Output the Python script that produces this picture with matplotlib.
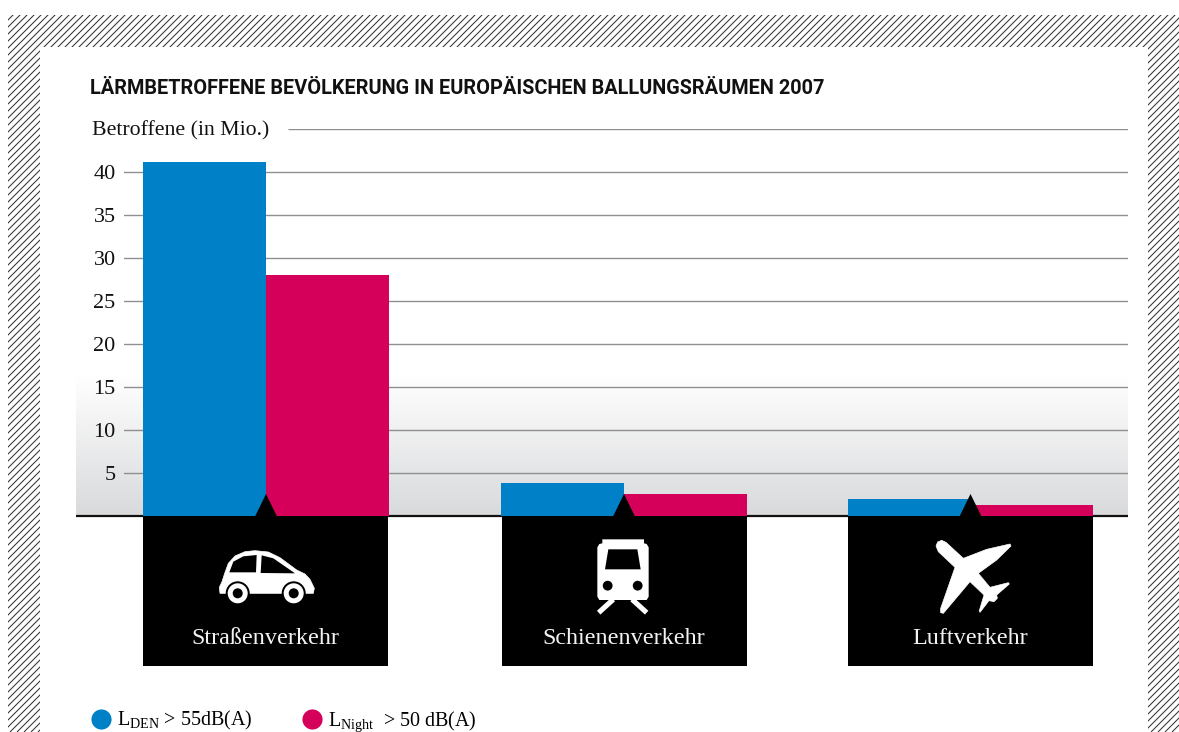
import matplotlib
matplotlib.use('Agg')
import matplotlib.pyplot as plt
import numpy as np
from matplotlib.collections import LineCollection
from matplotlib.lines import Line2D
from matplotlib.patches import Circle, Polygon, Rectangle

# Data
categories = ['Straßenverkehr', 'Schienenverkehr', 'Luftverkehr']
l_den = [41.2, 3.8, 1.9]
l_night = [28.0, 2.5, 1.2]
y_ticks = [5, 10, 15, 20, 25, 30, 35, 40]

title = 'LÄRMBETROFFENE BEVÖLKERUNG IN EUROPÄISCHEN BALLUNGSRÄUMEN 2007'
y_title = 'Betroffene (in Mio.)'
den_label = r'L$_{\mathrm{DEN}}$ > 55dB(A)'
night_label = r'L$_{\mathrm{Night}}\;$ > 50 dB(A)'

BLUE = '#0080c6'
RED = '#d4005a'
W, H = 1179, 732
SERIF = 'Liberation Serif'

plt.rcParams['font.family'] = SERIF
plt.rcParams['mathtext.fontset'] = 'custom'
plt.rcParams['mathtext.rm'] = SERIF

fig = plt.figure(figsize=(W / 100, H / 100), dpi=100, facecolor='white')

# background layer in pixel coordinates: hatched frame
bg = fig.add_axes([0, 0, 1, 1], zorder=0)
bg.set_xlim(0, W)
bg.set_ylim(H, 0)
bg.axis('off')
hatch_clip = Rectangle((8, 15), W - 8, H - 15, transform=bg.transData)
segs = [[(c, 0), (c - H, H)] for c in np.arange(0, W + H, 7.0)]
lc = LineCollection(segs, colors='#333333', linewidths=0.75)
bg.add_collection(lc)
lc.set_clip_path(hatch_clip)
bg.add_patch(Rectangle((40, 47), 1108, H - 47, fc='white', ec='none', zorder=3))

# chart axes, x runs in the same units as the pixels so groups sit where they do in the picture
left, right, top, bottom = 124, 1128, 129, 515.5
ax = fig.add_axes([left / W, 1 - bottom / H, (right - left) / W, (bottom - top) / H], zorder=1)
ax.patch.set_alpha(0)

centers = np.array([266, 624, 970.5])
bar_w = 122.6
ax.bar(centers - bar_w / 2, l_den, bar_w, color=BLUE, zorder=3)
ax.bar(centers + bar_w / 2, l_night, bar_w, color=RED, zorder=3)

# soft grey floor behind the bars
grad = np.linspace(0, 1, 128).reshape(-1, 1)
ax.imshow(grad, cmap=matplotlib.colors.LinearSegmentedColormap.from_list('g', ['white', '#d9dadc']),
          extent=(76, right, 0, 16.3), aspect='auto', zorder=0, clip_on=False, origin='upper')

ax.set_xlim(left, right)
ax.set_ylim(0, 45)
ax.set_xticks([])
ax.set_yticks(y_ticks)
ax.tick_params(axis='y', length=0, pad=6, labelsize=16, colors='#111111')
ax.grid(True, axis='y', color='#8f8f8f', lw=1.0, zorder=1)
ax.set_axisbelow(True)
for s in ax.spines.values():
    s.set_visible(False)
ax.hlines(45, 288, right, color='#8f8f8f', lw=1.0, zorder=1)
ax.hlines(0, 76, right, color='#111111', lw=1.6, zorder=2, clip_on=False)

# overlay with the black category boxes and icons
ov = fig.add_axes([0, 0, 1, 1], zorder=2)
ov.set_xlim(0, W)
ov.set_ylim(H, 0)
ov.axis('off')
ov.patch.set_alpha(0)


def zoomed(pts, x0, y0):
    return [(x0 + a / 3, y0 + b / 3) for a, b in pts]


for c, box_c, name in zip(centers, [265.5, 624.5, 970.5], categories):
    ov.add_patch(Rectangle((box_c - 122.5, bottom), 245, 666 - bottom, fc='black', ec='none'))
    ov.add_patch(Polygon([(c - 11, bottom + 1), (c, 494), (c + 11, bottom + 1)], fc='black', ec='none'))
    ov.text(box_c - 0.5, 638, name, color='#f2f2f2', ha='center', va='center', fontsize=17.4)

# car
car = [(240, 340), (238, 322), (246, 305), (254, 280), (265, 250), (285, 228), (315, 215), (345, 212), (385, 216),
       (420, 233), (470, 270), (495, 282), (510, 298), (523, 325), (520, 340)]
ov.add_patch(Polygon(zoomed(car, 140, 480), fc='white', ec='white', lw=0.5, joinstyle='round'))
for wx in (237.7, 293.7):
    ov.add_patch(Circle((wx, 593.3), 12, fc='black', ec='none'))
    ov.add_patch(Circle((wx, 593.3), 10, fc='white', ec='none'))
    ov.add_patch(Circle((wx, 593.3), 5, fc='black', ec='none'))
win1 = [(268, 277), (280, 245), (310, 229), (350, 225), (348, 277)]
win2 = [(365, 226), (400, 235), (465, 280), (362, 279)]
ov.add_patch(Polygon(zoomed(win1, 140, 480), fc='black', ec='none'))
ov.add_patch(Polygon(zoomed(win2, 140, 480), fc='black', ec='none'))

# train
train = [(337, 220), (337, 208), (462, 208), (462, 220), (470, 222), (476, 232), (476, 380), (470, 390),
         (328, 390), (322, 380), (322, 232), (328, 222)]
ov.add_patch(Polygon(zoomed(train, 490, 470), fc='white', ec='none'))
ov.add_patch(Polygon(zoomed([(355, 238), (442, 238), (452, 298), (345, 298)], 490, 470), fc='black', ec='none'))
for lx in (353, 443):
    ov.add_patch(Circle((490 + lx / 3, 470 + 347 / 3), 4.9, fc='black', ec='none'))
rail1 = zoomed([(370, 388), (326, 428)], 490, 470)
rail2 = zoomed([(426, 388), (470, 428)], 490, 470)
for r in (rail1, rail2):
    ov.plot(*zip(*r), color='white', lw=3.7, solid_capstyle='butt')

# plane
plane = [(288, 198), (293, 186), (305, 181), (318, 187), (370, 235), (440, 208), (510, 192), (513, 198), (470, 240),
         (415, 280), (450, 322), (505, 308), (508, 312), (470, 345), (472, 355), (462, 365), (447, 362),
         (420, 397), (418, 392), (432, 345), (390, 305), (310, 400), (302, 398), (302, 385), (345, 262), (295, 215)]
ov.add_patch(Polygon(zoomed(plane, 840, 480), fc='white', ec='white', lw=0.5, joinstyle='round'))

# texts placed by hand
ov.text(90, 88, title, family='Roboto', weight='bold', fontsize=14.35, color='#111111', ha='left', va='center')
ov.text(92, 131, y_title, fontsize=15.7, color='#111111', ha='left', va='center')

handles = [Line2D([], [], ls='none', marker='o', ms=14.5, color=BLUE, mew=0),
           Line2D([], [], ls='none', marker='o', ms=14.5, color=RED, mew=0)]
fig.legend(handles, [den_label, night_label], loc='center left', bbox_to_anchor=(86 / W, 1 - 721.5 / H),
           ncols=2, frameon=False, fontsize=14.4, borderpad=0, borderaxespad=0, handletextpad=0.05,
           columnspacing=2.25, handlelength=1.5)

fig.savefig('out.png', dpi=100)
